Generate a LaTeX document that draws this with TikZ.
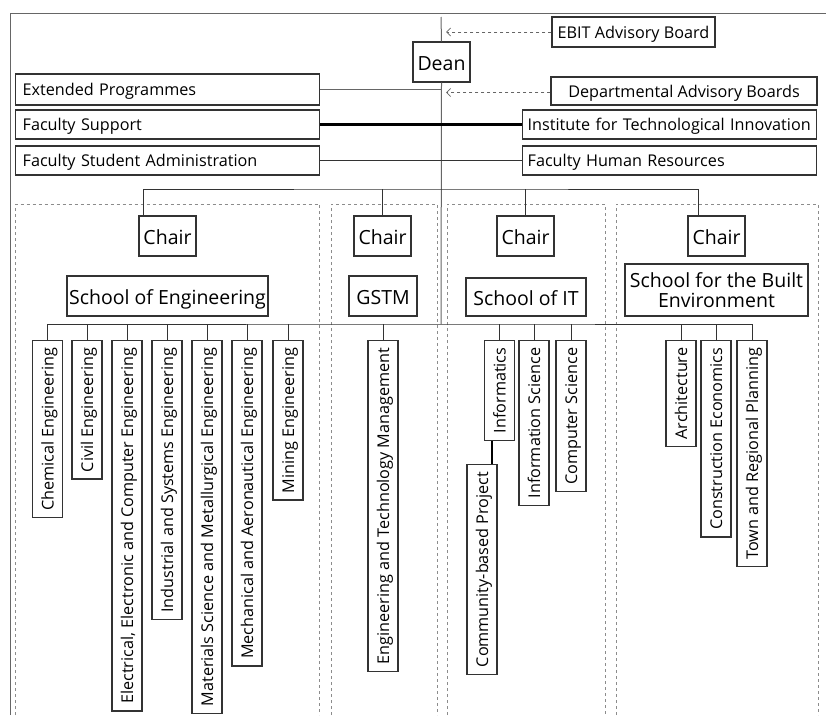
\documentclass[tikz,border=0pt]{standalone}
\usepackage{fontspec}
\setmainfont{Open Sans}
\usetikzlibrary{arrows.meta}
\definecolor{boxline}{HTML}{333333}
\definecolor{linkgray}{HTML}{666666}
\definecolor{groupgray}{HTML}{8C8C8C}
\tikzset{
  unit/.style={draw=boxline, line width=1.3pt, fill=white, inner sep=0pt, font=\fontsize{16.2}{19}\selectfont, text height=14.5pt, text depth=2.5pt},
  head/.style={unit, font=\fontsize{19.5}{23}\selectfont, text height=19.5pt, text depth=2.5pt},
  sidebox/.style={unit, anchor=west, text width=290pt, align=left, inner xsep=7pt},
  dept/.style={unit, rotate=90, anchor=east, minimum height=30pt, inner xsep=7pt},
  group/.style={draw=groupgray, dashed, line width=0.8pt},
  advice/.style={draw=linkgray, dashed, line width=0.8pt, -{Straight Barb[length=4pt,width=8pt]}},
  link/.style={draw=boxline, line width=1pt},
  graylink/.style={draw=linkgray, line width=1pt},
  strong/.style={draw=black, line width=2.2pt},
}

\begin{document}
\begin{tikzpicture}[x=1pt,y=-1pt]
\useasboundingbox (0,0) rectangle (826,715);
\draw[graylink] (10,715) |- (826,13);
\draw[group] (15.5,715) |- (319.5,204) -- (319.5,715);
\draw[group] (331,715) |- (437,204) -- (437,715);
\draw[group] (447,715) |- (605,204) -- (605,715);
\draw[group] (616,715) |- (818,204) -- (818,715);

\coordinate (top) at (441,17);
\coordinate (cbus) at (441,189);
\coordinate (dbus) at (441,324);

\node[head, minimum width=57pt, minimum height=40pt] (dean) at (441.5,62) {Dean};
\node[unit, minimum width=163pt, minimum height=30pt] (ebit) at (633.5,32) {EBIT Advisory Board};
\node[unit, minimum width=266pt, minimum height=28pt] (dab) at (684,91) {Departmental Advisory Boards};
\node[sidebox, minimum height=31pt] (ext) at (15,89.5) {Extended Programmes};
\node[sidebox, minimum height=29pt] (fs) at (15,124.5) {Faculty Support};
\node[sidebox, minimum height=29pt] (fsa) at (15,160.5) {Faculty Student Administration};
\node[sidebox, text width=284pt, inner xsep=5pt, minimum height=29pt] (iti) at (522,124.5) {Institute for Technological Innovation};
\node[sidebox, text width=284pt, inner xsep=5pt, minimum height=29pt] (fhr) at (522,160.5) {Faculty Human Resources};

\draw[graylink] (top) -- (dean.north);
\draw[graylink] (dean.south) -- (dbus);
\draw[advice] (ebit.west) -- ([xshift=5pt]ebit.west -| top);
\draw[advice] ([yshift=-1.5pt]dab.west) -- ([xshift=5pt,yshift=-1.5pt]dab.west -| top);
\draw[graylink] (ext.east) -- (ext.east -| top);
\draw[strong] (fs.east) -- (iti.west);
\draw[link] (fsa.east) -- (fhr.west);

\node[head, minimum width=57pt, minimum height=40pt] (chaireng) at (167.5,236) {Chair};
\node[head, minimum width=57pt, minimum height=40pt] (chairgstm) at (382.5,236) {Chair};
\node[head, minimum width=57pt, minimum height=40pt] (chairit) at (525.5,236) {Chair};
\node[head, minimum width=57pt, minimum height=40pt] (chairbe) at (716.5,236) {Chair};
\draw[link] ([xshift=-24.5pt]chaireng.north) |- (cbus) -| ([xshift=-18.5pt]chairbe.north);
\draw[link] (chairgstm.north) -- (chairgstm.north |- cbus);
\draw[link] (chairit.north) -- (chairit.north |- cbus);

\node[head, minimum width=201pt, minimum height=40pt] (eng) at (167.5,296) {School of Engineering};
\node[head, minimum width=68pt, minimum height=40pt] (gstm) at (383,296) {GSTM};
\node[head, minimum width=120pt, minimum height=38pt] (sit) at (526,297) {School of IT};
\node[head, minimum width=183pt, minimum height=52pt, align=center, text height=, text depth=] (sbe) at (716.5,290) {School for the Built\\[-3pt]Environment};

\node[dept] (chem) at (47.5,340) {Chemical Engineering};
\node[dept] (civil) at (87,340) {Civil Engineering};
\node[dept] (elec) at (127,340) {Electrical, Electronic and Computer Engineering};
\node[dept] (ind) at (167,340) {Industrial and Systems Engineering};
\node[dept] (mat) at (207,340) {Materials Science and Metallurgical Engineering};
\node[dept] (mech) at (247,340) {Mechanical and Aeronautical Engineering};
\node[dept] (mine) at (288,340) {Mining Engineering};
\node[dept] (etm) at (383,340) {Engineering and Technology Management};
\node[dept] (inf) at (499.5,340) {Informatics};
\node[dept] (infsci) at (534,340) {Information Science};
\node[dept] (compsci) at (571,340) {Computer Science};
\node[dept] (arch) at (681,340) {Architecture};
\node[dept] (coneco) at (716,340) {Construction Economics};
\node[dept] (trp) at (752,340) {Town and Regional Planning};
\node[dept] (cbp) at (482,464) {Community-based Project};

\draw[link] (chem.east) |- (dbus) -| (trp.east);
\draw[link] (civil.east) -- (civil.east |- dbus);
\draw[link] (elec.east) -- (elec.east |- dbus);
\draw[link] (ind.east) -- (ind.east |- dbus);
\draw[link] (mat.east) -- (mat.east |- dbus);
\draw[link] (mech.east) -- (mech.east |- dbus);
\draw[link] (mine.east) -- (mine.east |- dbus);
\draw[link] (etm.east) -- (etm.east |- dbus);
\draw[link] (inf.east) -- (inf.east |- dbus);
\draw[link] (infsci.east) -- (infsci.east |- dbus);
\draw[link] (compsci.east) -- (compsci.east |- dbus);
\draw[link] (arch.east) -- (arch.east |- dbus);
\draw[link] (coneco.east) -- (coneco.east |- dbus);
\draw[strong] ([xshift=-7.5pt]inf.west) -- ([xshift=-7.5pt]inf.west |- cbp.east);
\end{tikzpicture}
\end{document}
